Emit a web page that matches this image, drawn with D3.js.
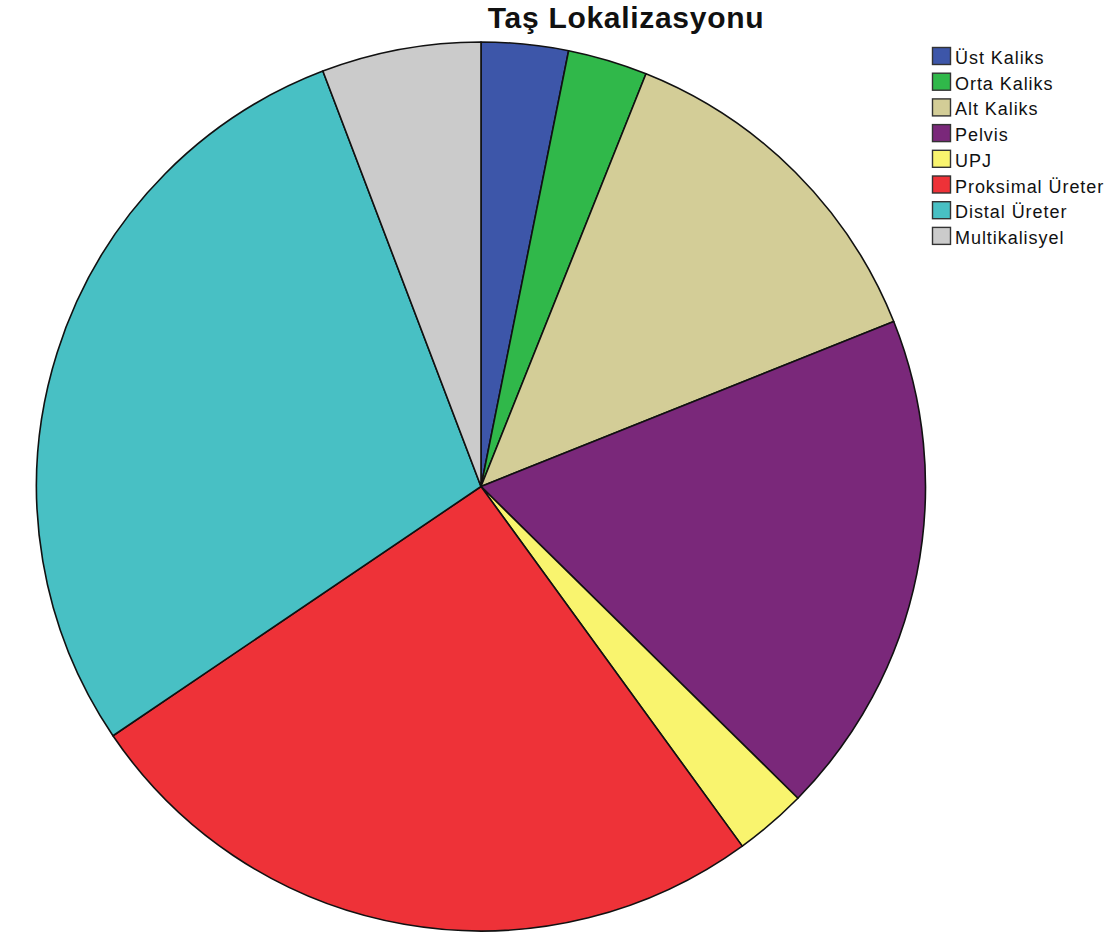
<!DOCTYPE html>
<html>
<head>
<meta charset="utf-8">
<script src="https://cdn.jsdelivr.net/npm/d3@7"></script>
<style>
  html, body { margin: 0; padding: 0; background: #ffffff; }
  svg { display: block; }
</style>
</head>
<body>
<svg id="chart" width="1118" height="938"></svg>
<script>
// Stone location counts
const categories = ["Üst Kaliks", "Orta Kaliks", "Alt Kaliks", "Pelvis", "UPJ", "Proksimal Üreter", "Distal Üreter", "Multikalisyel"];
const counts = [12, 11, 49, 70, 10, 97, 109, 22];
const colors = ["#3d56a9", "#30b84a", "#d3cd97", "#7a287a", "#f9f46e", "#ee3238", "#48c0c4", "#cbcbcb"];
const title = "Taş Lokalizasyonu";

const data = categories.map((c, i) => ({ label: c, value: counts[i], color: colors[i] }));

const svg = d3.select("#chart");
const cx = 481, cy = 486.5, r = 444.5;

const pie = d3.pie().value(d => d.value).sort(null);
const arc = d3.arc().innerRadius(0).outerRadius(r);

const g = svg.append("g").attr("transform", `translate(${cx},${cy})`);
g.selectAll("path")
  .data(pie(data))
  .join("path")
  .attr("d", arc)
  .attr("fill", d => d.data.color)
  .attr("stroke", "#111")
  .attr("stroke-width", 1.6)
  .attr("stroke-linejoin", "round");

// Title
svg.append("text")
  .attr("x", 626)
  .attr("y", 28)
  .attr("text-anchor", "middle")
  .attr("font-family", "Liberation Sans, Arial, sans-serif")
  .attr("font-weight", "bold")
  .attr("font-size", 30)
  .attr("letter-spacing", 0.7)
  .attr("fill", "#111")
  .text(title);

// Legend
const legend = svg.append("g").attr("transform", "translate(932,47)");
const row = legend.selectAll("g")
  .data(data)
  .join("g")
  .attr("transform", (d, i) => `translate(0,${i * 25.7})`);
row.append("rect")
  .attr("x", 0.5).attr("y", 0.5)
  .attr("width", 18).attr("height", 17)
  .attr("fill", d => d.color)
  .attr("stroke", "#333")
  .attr("stroke-width", 1.4);
row.append("text")
  .attr("x", 23)
  .attr("y", 17)
  .attr("font-family", "Liberation Sans, Arial, sans-serif")
  .attr("font-size", 18)
  .attr("letter-spacing", 0.95)
  .attr("fill", "#111")
  .text(d => d.label);
</script>
</body>
</html>
